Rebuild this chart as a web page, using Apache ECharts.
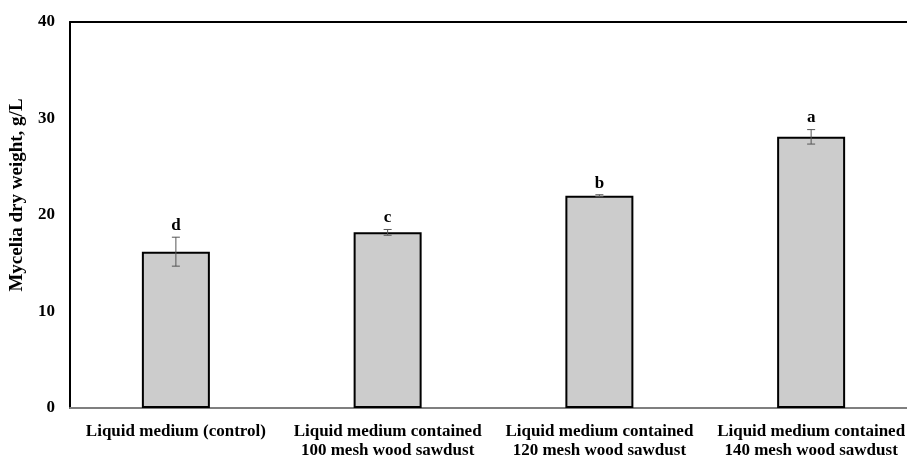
<!DOCTYPE html>
<html><head><meta charset="utf-8">
<script src="https://cdn.jsdelivr.net/npm/echarts@6/dist/echarts.min.js"></script>
<style>html,body{margin:0;padding:0;background:#fff}#c{width:907px;height:456px}</style>
</head><body><div id="c"></div>
<script>
var categories = ['Liquid medium (control)', 'Liquid medium contained\n100 mesh wood sawdust', 'Liquid medium contained\n120 mesh wood sawdust', 'Liquid medium contained\n140 mesh wood sawdust'];
var values = [16.2, 18.2, 22.0, 28.1];
var errors = [1.5, 0.3, 0.1, 0.75];
var letters = ['d', 'c', 'b', 'a'];
var yTicks = [0, 10, 20, 30, 40];

var font = '"Liberation Serif", "Times New Roman", serif';
var chart = echarts.init(document.getElementById('c'));
var errData = values.map(function (v, i) { return [i, v, errors[i], letters[i]]; });
chart.setOption({
  animation: false,
  grid: { left: 70, top: 22, width: 847, height: 386, containLabel: false, outerBoundsMode: 'none' },
  xAxis: [{
    type: 'category', data: categories,
    axisLine: { lineStyle: { color: '#7f7f7f', width: 2 } },
    axisTick: { show: false },
    axisLabel: { fontFamily: font, fontWeight: 'bold', fontSize: 17, color: '#000', margin: 14, lineHeight: 19, interval: 0 }
  }, {
    type: 'category', data: categories, position: 'top',
    axisLine: { lineStyle: { color: '#000', width: 2 } },
    axisTick: { show: false }, axisLabel: { show: false }
  }],
  yAxis: {
    type: 'value', min: yTicks[0], max: yTicks[yTicks.length - 1], interval: 10,
    name: 'Mycelia dry weight, g/L', nameLocation: 'middle', nameGap: 43,
    nameTextStyle: { fontFamily: font, fontWeight: 'bold', fontSize: 19, color: '#000', padding: [0, 0, 0, 40] },
    axisLine: { show: true, lineStyle: { color: '#000', width: 2 } },
    axisTick: { show: false },
    splitLine: { show: false },
    axisLabel: { fontFamily: font, fontWeight: 'bold', fontSize: 17, color: '#000', margin: 15 }
  },
  series: [{
    type: 'bar', data: values, barWidth: 68,
    itemStyle: { color: '#cccccc', borderColor: '#000', borderWidth: 2 }
  }, {
    type: 'custom', data: errData, z: 10,
    renderItem: function (params, api) {
      var x = api.value(0), v = api.value(1), e = api.value(2);
      var top = api.coord([x, v + e]);
      var bot = api.coord([x, v - e]);
      var cw = 4;
      var style = { stroke: '#555', lineWidth: 1 };
      return {
        type: 'group', children: [
          { type: 'line', shape: { x1: top[0], y1: top[1], x2: bot[0], y2: bot[1] }, style: style },
          { type: 'line', shape: { x1: top[0] - cw, y1: top[1], x2: top[0] + cw, y2: top[1] }, style: style },
          { type: 'line', shape: { x1: bot[0] - cw, y1: bot[1], x2: bot[0] + cw, y2: bot[1] }, style: style },
          { type: 'text', x: top[0], y: top[1] - 3, style: { text: letters[params.dataIndex], fontFamily: font, fontWeight: 'bold', fontSize: 17, fill: '#000', align: 'center', verticalAlign: 'bottom' } }
        ]
      };
    }
  }]
});
</script></body></html>
